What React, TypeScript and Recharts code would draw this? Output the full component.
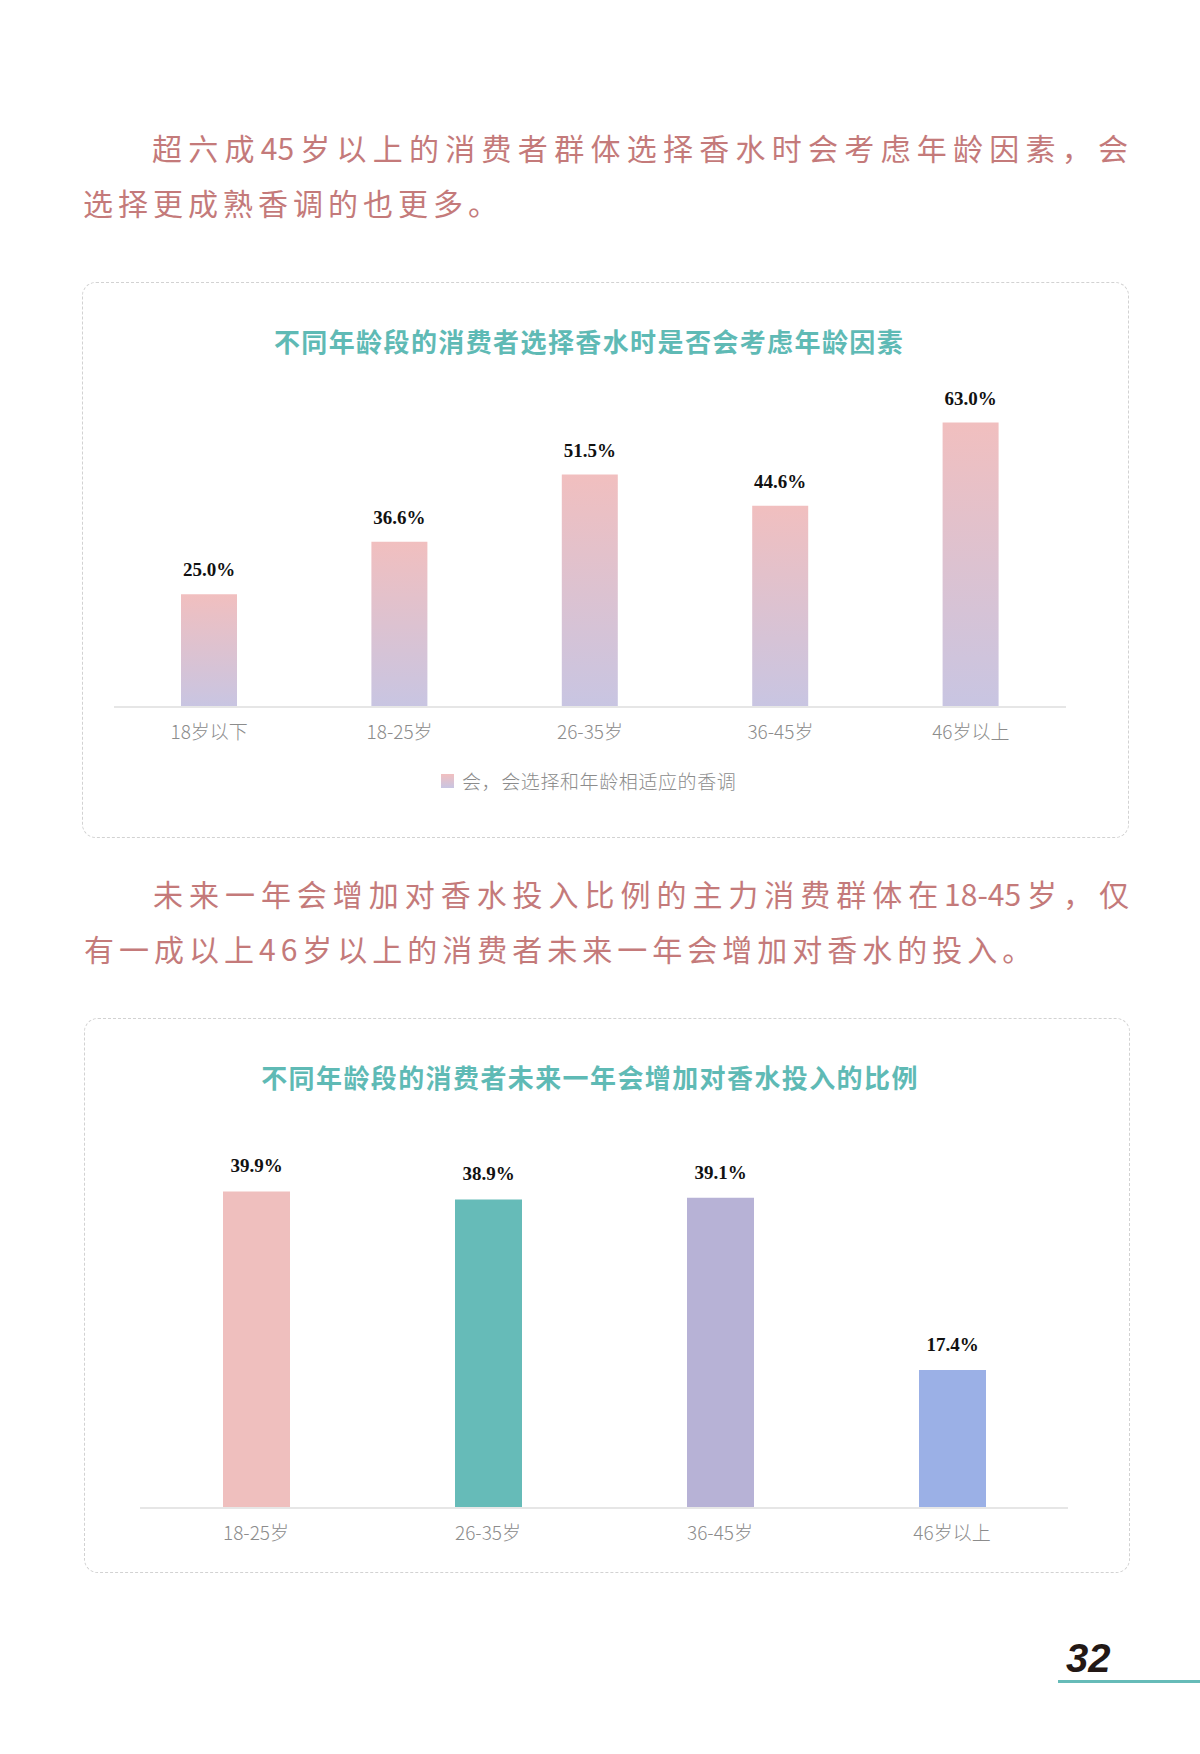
import React from 'react';
import { BarChart, Bar, XAxis, YAxis, LabelList, Cell } from 'recharts';

// ---------- data ----------
const ageGroups1 = ['18岁以下', '18-25岁', '26-35岁', '36-45岁', '46岁以上'];
const considerAgeValues = [25.0, 36.6, 51.5, 44.6, 63.0];
const legend1 = '会，会选择和年龄相适应的香调';

const ageGroups2 = ['18-25岁', '26-35岁', '36-45岁', '46岁以上'];
const increaseSpendValues = [39.9, 38.9, 39.1, 17.4];
const spendColors = ['#efbfbe', '#66bbb8', '#b7b2d6', '#9bb0e6'];

const title1 = '不同年龄段的消费者选择香水时是否会考虑年龄因素';
const title2 = '不同年龄段的消费者未来一年会增加对香水投入的比例';

const para1 = ['超六成45岁以上的消费者群体选择香水时会考虑年龄因素，会', '选择更成熟香调的也更多。'];
const para2 = ['未来一年会增加对香水投入比例的主力消费群体在18-45岁，仅', '有一成以上46岁以上的消费者未来一年会增加对香水的投入。'];
const pageNumber = '32';

const data1 = ageGroups1.map((name, i) => ({ name, value: considerAgeValues[i] }));
const data2 = ageGroups2.map((name, i) => ({ name, value: increaseSpendValues[i] }));

// ---------- styles ----------
const CJK = '"Noto Sans CJK SC", "Noto Sans", sans-serif';
const paraColor = '#c47a7a';
const teal = '#5fbab5';
const tickStyle = { fill: '#8c8c8c', fontSize: 19, fontFamily: CJK, fontWeight: 300 } as any;
const labelStyle = { fill: '#111', fontSize: 19, fontFamily: '"Liberation Serif", "Times New Roman", serif', fontWeight: 700 } as any;
const fmt = (v: any) => `${Number(v).toFixed(1)}%`;

const TextLine = ({ left, top, width, ls, justify, text }: any) => (
  <div
    style={{
      position: 'absolute',
      left,
      top,
      width: justify ? width : undefined,
      whiteSpace: justify ? 'normal' : 'nowrap',
      fontFamily: CJK,
      fontSize: 30,
      lineHeight: '30px',
      color: paraColor,
      letterSpacing: ls,
      textAlign: justify ? 'justify' : 'left',
      textAlignLast: justify ? 'justify' : 'auto',
    } as any}
  >
    {text}
  </div>
);

const Title = ({ cx, top, text }: any) => (
  <div
    style={{
      position: 'absolute',
      left: cx,
      top,
      transform: 'translateX(-50%)',
      whiteSpace: 'nowrap',
      fontFamily: CJK,
      fontSize: 26,
      lineHeight: '26px',
      fontWeight: 700,
      color: teal,
      letterSpacing: 1.4,
    }}
  >
    {text}
  </div>
);

const Box = ({ left, top, width, height }: any) => (
  <div
    style={{
      position: 'absolute',
      left,
      top,
      width,
      height,
      border: '1.5px dashed #d2d2d2',
      borderRadius: 14,
      boxSizing: 'border-box',
    }}
  />
);

export default function App() {
  return (
    <div
      style={{
        position: 'absolute',
        left: 0,
        top: 0,
        width: 1200,
        height: 1754,
        background: '#fff',
        overflow: 'hidden',
      }}
    >
      {/* paragraph 1 */}
      <TextLine left={152} top={132} width={976} justify text={para1[0]} />
      <TextLine left={83} top={187} ls={5} text={para1[1]} />

      {/* chart 1 */}
      <Box left={82} top={282} width={1047} height={556} />
      <Title cx={589} top={328} text={title1} />
      <div style={{ position: 'absolute', left: 114, top: 351 }}>
        <BarChart width={952} height={396} data={data1} margin={{ top: 40, right: 0, bottom: 0, left: 0 }}>
          <defs>
            <linearGradient id="g1" x1="0" y1="0" x2="0" y2="1">
              <stop offset="0%" stopColor="#f1bfbf" />
              <stop offset="100%" stopColor="#c8c5e2" />
            </linearGradient>
          </defs>
          <YAxis hide domain={[0, 70]} />
          <XAxis
            dataKey="name"
            height={40}
            axisLine={{ stroke: '#e6e6e6', strokeWidth: 2 }}
            tickLine={false}
            tick={tickStyle}
            tickMargin={13}
            interval={0}
          />
          <Bar dataKey="value" fill="url(#g1)" barSize={56} isAnimationActive={false}>
            <LabelList dataKey="value" position="top" offset={18} formatter={fmt} style={labelStyle} />
          </Bar>
        </BarChart>
      </div>
      {/* legend chart 1 */}
      <div
        style={{
          position: 'absolute',
          left: 441,
          top: 774,
          width: 13,
          height: 14,
          background: 'linear-gradient(#f1bfbf, #c8c5e2)',
        }}
      />
      <div
        style={{
          position: 'absolute',
          left: 462,
          top: 771,
          fontFamily: CJK,
          fontSize: 19,
          lineHeight: '19px',
          color: '#8c8c8c',
          letterSpacing: 0.6,
          whiteSpace: 'nowrap',
          fontWeight: 300,
        }}
      >
        {legend1}
      </div>

      {/* paragraph 2 */}
      <TextLine left={153} top={878} width={976} justify text={para2[0]} />
      <TextLine left={84} top={933} ls={5} text={para2[1]} />

      {/* chart 2 */}
      <Box left={84} top={1018} width={1046} height={555} />
      <Title cx={590} top={1064} text={title2} />
      <div style={{ position: 'absolute', left: 140, top: 1111 }}>
        <BarChart width={928} height={437} data={data2} margin={{ top: 40, right: 0, bottom: 0, left: 0 }}>
          <YAxis hide domain={[0, 45]} />
          <XAxis
            dataKey="name"
            height={40}
            axisLine={{ stroke: '#e6e6e6', strokeWidth: 2 }}
            tickLine={false}
            tick={tickStyle}
            tickMargin={13}
            interval={0}
          />
          <Bar dataKey="value" barSize={67} isAnimationActive={false}>
            {data2.map((d, i) => (
              <Cell key={d.name} fill={spendColors[i]} />
            ))}
            <LabelList dataKey="value" position="top" offset={19} formatter={fmt} style={labelStyle} />
          </Bar>
        </BarChart>
      </div>

      {/* page number */}
      <div
        style={{
          position: 'absolute',
          left: 1066,
          top: 1638,
          fontFamily: '"Liberation Sans", Arial, sans-serif',
          fontWeight: 700,
          fontStyle: 'italic',
          fontSize: 40,
          lineHeight: '40px',
          color: '#231815',
        }}
      >
        {pageNumber}
      </div>
      <div style={{ position: 'absolute', left: 1058, top: 1680, width: 142, height: 3, background: '#66bbb8' }} />
    </div>
  );
}
